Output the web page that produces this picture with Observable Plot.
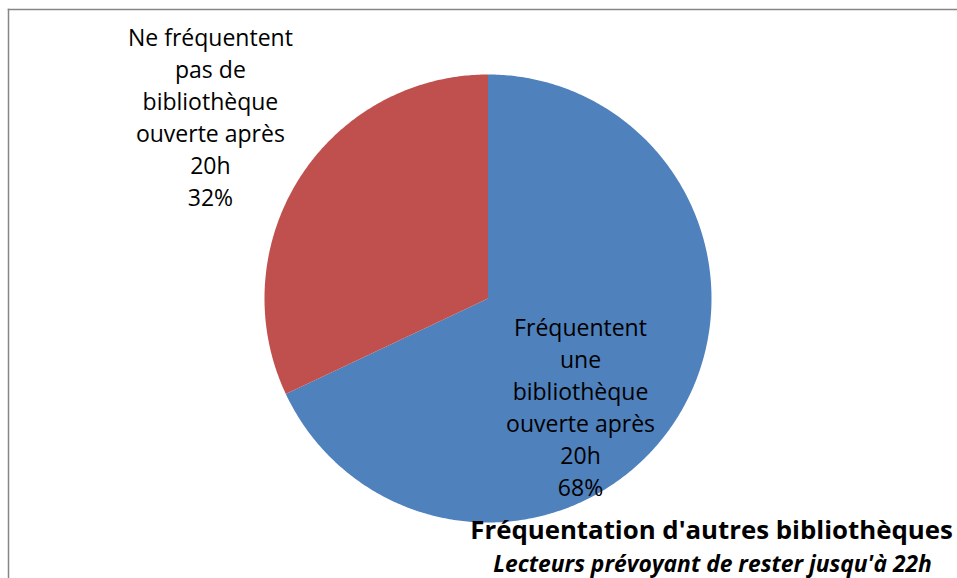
<!DOCTYPE html>
<html>
<head>
<meta charset="utf-8">
<script src="https://cdn.jsdelivr.net/npm/d3@7"></script>
<script src="https://cdn.jsdelivr.net/npm/@observablehq/plot@0.6"></script>
<style>
  html, body { margin: 0; padding: 0; background: #fff; }
</style>
</head>
<body>
<div id="chart"></div>
<script>
const categories = [
  "Fréquentent une bibliothèque ouverte après 20h",
  "Ne fréquentent pas de bibliothèque ouverte après 20h"
];
const values = [68, 32];
const colors = ["#4F81BD", "#C0504D"];
const labelLines = [
  "Fréquentent\nune\nbibliothèque\nouverte après\n20h\n68%",
  "Ne fréquentent\npas de\nbibliothèque\nouverte après\n20h\n32%"
];
const title = "Fréquentation d'autres bibliothèques";
const subtitle = "Lecteurs prévoyant de rester jusqu'à 22h";

// Build slice polygons from data (clockwise from 12 o'clock)
const total = d3.sum(values);
const pts = [];
let acc = 0;
values.forEach((v, i) => {
  const a0 = acc / total * 2 * Math.PI;
  acc += v;
  const a1 = acc / total * 2 * Math.PI;
  const n = Math.max(2, Math.ceil((a1 - a0) / 0.01));
  pts.push({cat: categories[i], x: 0, y: 0});
  for (let k = 0; k <= n; k++) {
    const a = a0 + (a1 - a0) * k / n;
    pts.push({cat: categories[i], x: Math.sin(a), y: Math.cos(a)});
  }
  pts.push({cat: categories[i], x: 0, y: 0});
});

const labels = [
  {text: labelLines[0], x: 0.414, y: -0.477},
  {text: labelLines[1], x: -1.242, y: 0.816}
];

const fontFamily = "'Open Sans', sans-serif";

const chart = Plot.plot({
  width: 957,
  height: 578,
  marginTop: 9,
  marginLeft: 8,
  marginRight: 0,
  marginBottom: 0,
  style: {fontFamily, background: "#fff", overflow: "hidden"},
  x: {domain: [-1, 1], range: [264, 711], axis: null},
  y: {domain: [-1, 1], range: [522, 74], axis: null},
  color: {domain: categories, range: colors},
  marks: [
    Plot.frame({anchor: "top", stroke: "#868686", strokeWidth: 1.5}),
    Plot.frame({anchor: "left", stroke: "#868686", strokeWidth: 1.5}),
    Plot.line(pts, {x: "x", y: "y", z: "cat", fill: "cat", stroke: "none", curve: "linear"}),
    Plot.text(labels, {x: "x", y: "y", text: "text", fontSize: 23, lineHeight: 1.391, fill: "#000", textAnchor: "middle", lineAnchor: "middle"}),
    Plot.text([title], {frameAnchor: "top-left", dx: 711 - 8, dy: 530.5 - 9, text: d => d, fontSize: 25.8, fontWeight: "bold", fill: "#000", textAnchor: "middle", lineAnchor: "middle"}),
    Plot.text([subtitle], {frameAnchor: "top-left", dx: 712 - 8, dy: 564 - 9, text: d => d, fontSize: 22.8, fontWeight: "bold", fontStyle: "italic", fill: "#000", textAnchor: "middle", lineAnchor: "middle"})
  ]
});
document.getElementById("chart").appendChild(chart);
</script>
</body>
</html>
